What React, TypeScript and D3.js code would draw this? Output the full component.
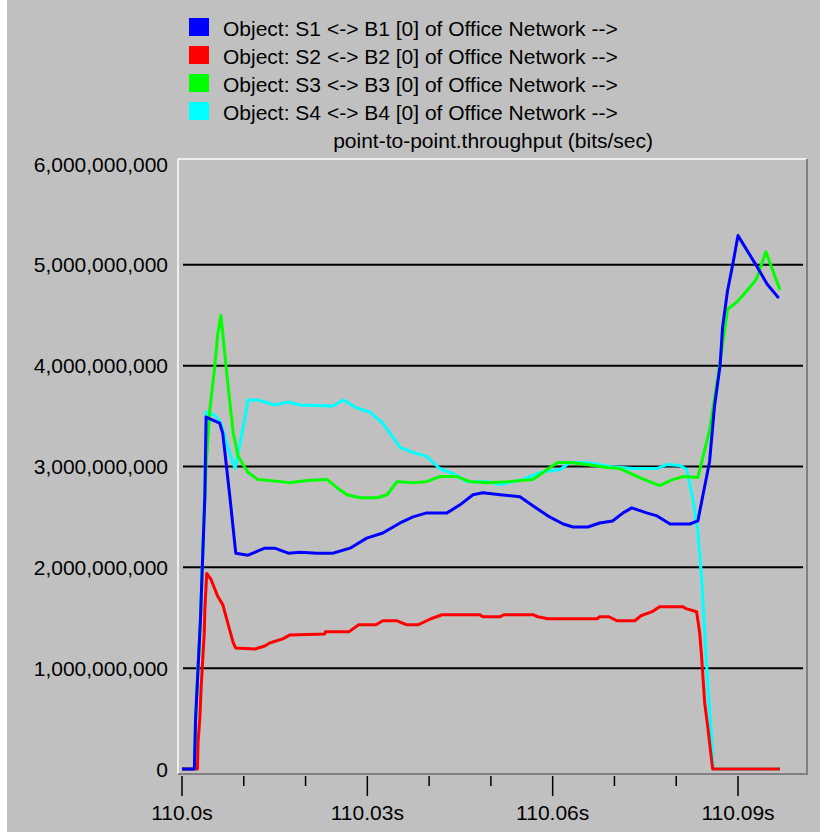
import React, { useEffect, useRef } from "react";
import * as d3 from "d3";

// time offsets in ms after 110.0 s, throughput in Gbit/s
const s1Series: [number, number][] = [
  [0, 0], [2.0, 0], [2.2, 0.5], [2.6, 1.0], [3.0, 1.5], [3.4, 2.2], [3.7, 2.7], [3.9, 3.49],
  [6.1, 3.43], [6.6, 3.33], [7.8, 2.67], [8.7, 2.14], [10.7, 2.12], [13.4, 2.19], [15.0, 2.19],
  [17.2, 2.14], [19.1, 2.15], [21.8, 2.14], [24.4, 2.14], [27.2, 2.19], [29.9, 2.29], [32.5, 2.34],
  [35.3, 2.44], [37.4, 2.5], [39.6, 2.54], [42.9, 2.54], [45.0, 2.62], [47.1, 2.72], [48.7, 2.74],
  [51.5, 2.72], [54.7, 2.7], [56.8, 2.61], [59.5, 2.5], [61.7, 2.43], [63.3, 2.4], [65.7, 2.4],
  [67.6, 2.44], [69.7, 2.46], [71.4, 2.54], [72.8, 2.59], [75.2, 2.54], [76.9, 2.51], [79.0, 2.43],
  [82.2, 2.43], [83.5, 2.46], [85.4, 3.05], [86.2, 3.6], [87.1, 4.0], [87.5, 4.38], [88.3, 4.74],
  [89.2, 5.02], [90.0, 5.29], [93.0, 4.99], [94.7, 4.81], [96.6, 4.67],
];

const s2Series: [number, number][] = [
  [0, 0], [2.5, 0], [2.6, 0.26], [2.9, 0.52], [3.1, 0.81], [3.6, 1.35], [3.7, 1.58], [4.0, 1.94],
  [4.7, 1.88], [5.8, 1.71], [6.6, 1.63], [7.4, 1.45], [8.3, 1.25], [8.7, 1.2], [11.8, 1.19],
  [13.4, 1.22], [14.2, 1.25], [16.3, 1.29], [17.5, 1.33], [23.1, 1.34], [23.2, 1.36], [27.0, 1.36],
  [28.6, 1.43], [31.4, 1.43], [32.5, 1.47], [34.8, 1.47], [36.4, 1.43], [38.2, 1.43], [40.3, 1.49],
  [42.1, 1.53], [48.2, 1.53], [48.7, 1.51], [51.5, 1.51], [52.1, 1.53], [56.8, 1.53], [57.6, 1.51],
  [59.2, 1.49], [67.2, 1.49], [67.6, 1.51], [69.1, 1.51], [70.4, 1.47], [73.3, 1.47], [74.3, 1.52],
  [76.1, 1.56], [77.3, 1.61], [81.1, 1.61], [81.6, 1.59], [83.3, 1.56], [83.8, 1.35], [84.1, 1.12],
  [84.6, 0.66], [85.1, 0.42], [85.8, 0.05], [85.9, 0], [96.8, 0],
];

const s3Series: [number, number][] = [
  [0, 0], [2.0, 0], [2.2, 0.5], [2.6, 1.0], [3.0, 1.5], [3.4, 2.2], [3.7, 2.7], [3.9, 3.0],
  [4.5, 3.56], [5.3, 3.99], [5.8, 4.32], [6.3, 4.5], [6.6, 4.32], [7.4, 3.83], [8.3, 3.33],
  [9.1, 3.1], [10.7, 2.94], [12.3, 2.87], [16.0, 2.85], [17.2, 2.84], [20.4, 2.86], [23.5, 2.87],
  [25.1, 2.79], [26.7, 2.72], [28.8, 2.69], [31.6, 2.69], [33.2, 2.72], [34.8, 2.85], [37.4, 2.84],
  [39.6, 2.85], [41.7, 2.9], [44.5, 2.9], [46.6, 2.85], [49.4, 2.84], [52.8, 2.85], [56.8, 2.87],
  [59.1, 2.97], [60.8, 3.04], [62.8, 3.04], [65.5, 3.02], [68.8, 2.99], [70.9, 2.98], [74.1, 2.89],
  [77.3, 2.81], [79.4, 2.87], [81.1, 2.9], [83.5, 2.89], [85.4, 3.36], [87.1, 4.03], [88.3, 4.56],
  [89.8, 4.63], [91.4, 4.74], [93.0, 4.86], [94.5, 5.13], [96.8, 4.75],
];

const s4Series: [number, number][] = [
  [0, 0], [2.0, 0], [2.2, 0.5], [2.6, 1.0], [3.0, 1.5], [3.4, 2.2], [3.7, 2.8], [3.9, 3.54],
  [5.3, 3.51], [6.3, 3.43], [7.1, 3.26], [7.9, 3.1], [8.6, 2.98], [9.5, 3.26], [10.7, 3.66],
  [12.3, 3.66], [15.0, 3.61], [17.2, 3.64], [19.1, 3.61], [24.4, 3.6], [26.1, 3.66], [28.3, 3.58],
  [30.4, 3.54], [32.5, 3.43], [35.3, 3.19], [37.4, 3.14], [39.6, 3.1], [41.7, 2.98], [43.9, 2.93],
  [46.1, 2.85], [49.4, 2.85], [51.5, 2.82], [55.2, 2.87], [57.9, 2.94], [61.2, 2.97], [62.8, 3.04],
  [65.5, 3.04], [69.3, 3.0], [73.0, 2.98], [76.9, 2.98], [78.5, 3.02], [80.6, 3.01], [81.7, 2.97],
  [82.7, 2.68], [83.5, 2.36], [84.1, 1.9], [84.6, 1.37], [85.1, 0.84], [85.8, 0.24], [86.0, 0],
  [96.8, 0],
];

const legendLabels = [
  "Object: S1 <-> B1 [0] of Office Network -->",
  "Object: S2 <-> B2 [0] of Office Network -->",
  "Object: S3 <-> B3 [0] of Office Network -->",
  "Object: S4 <-> B4 [0] of Office Network -->",
];
const legendColors = ["#0000ff", "#ff0000", "#00ff00", "#00ffff"];
const statLabel = "point-to-point.throughput (bits/sec)";

const yTicks = [0, 1e9, 2e9, 3e9, 4e9, 5e9, 6e9];
const xMinorTicks = [0, 10, 20, 30, 40, 50, 60, 70, 80, 90];
const xMajorTicks = [0, 30, 60, 90];
const xTickLabels = ["110.0s", "110.03s", "110.06s", "110.09s"];

const FONT = "'Liberation Sans', Arial, sans-serif";

export default function App() {
  const ref = useRef<SVGSVGElement>(null);

  useEffect(() => {
    if (!ref.current) return;
    const svg = d3.select(ref.current);
    svg.selectAll("*").remove();

    const width = 820;
    const height = 832;
    const frame = { left: 178, top: 159, right: 807, bottom: 774 };

    const x = d3.scaleLinear().domain([0, 90]).range([182, 738]);
    const y = d3.scaleLinear().domain([0, 6e9]).range([769, 164]);

    // background
    svg.append("rect").attr("width", width).attr("height", height).attr("fill", "#ffffff");
    svg.append("rect").attr("x", 7).attr("width", width - 7).attr("height", height).attr("fill", "#c0c0c0");

    // legend
    const legend = svg.append("g");
    legendLabels.forEach((lab, i) => {
      legend.append("rect")
        .attr("x", 189).attr("y", 18 + i * 28)
        .attr("width", 20).attr("height", 18)
        .attr("fill", legendColors[i]);
      legend.append("text")
        .attr("x", 223).attr("y", 36 + i * 28)
        .attr("font-family", FONT).attr("font-size", 21)
        .attr("fill", "#000")
        .text(lab);
    });
    legend.append("text")
      .attr("x", 653).attr("y", 148)
      .attr("text-anchor", "end")
      .attr("font-family", FONT).attr("font-size", 21)
      .attr("fill", "#000")
      .text(statLabel);

    // frame
    svg.append("line").attr("x1", frame.left).attr("x2", frame.left).attr("y1", frame.top).attr("y2", frame.bottom)
      .attr("stroke", "#ffffff").attr("stroke-width", 1.5);
    svg.append("line").attr("x1", frame.left).attr("x2", frame.right).attr("y1", frame.top).attr("y2", frame.top)
      .attr("stroke", "#ffffff").attr("stroke-width", 1.5);
    svg.append("line").attr("x1", frame.right).attr("x2", frame.right).attr("y1", frame.top).attr("y2", frame.bottom + 1)
      .attr("stroke", "#808080").attr("stroke-width", 2);
    svg.append("line").attr("x1", frame.left).attr("x2", frame.right + 1).attr("y1", frame.bottom).attr("y2", frame.bottom)
      .attr("stroke", "#808080").attr("stroke-width", 2);

    // gridlines
    svg.append("g").selectAll("line")
      .data(yTicks.filter(v => v > 0 && v < 6e9))
      .enter().append("line")
      .attr("x1", 183).attr("x2", 803)
      .attr("y1", (d: number) => y(d)).attr("y2", (d: number) => y(d))
      .attr("stroke", "#000").attr("stroke-width", 2);

    // y labels
    svg.append("g").selectAll("text")
      .data(yTicks)
      .enter().append("text")
      .attr("x", 168).attr("y", (d: number) => y(d))
      .attr("dy", "0.36em")
      .attr("text-anchor", "end")
      .attr("font-family", FONT).attr("font-size", 21)
      .attr("fill", "#000")
      .text((d: number) => d3.format(",")(d));

    // x ticks
    svg.append("g").selectAll("line")
      .data(xMinorTicks)
      .enter().append("line")
      .attr("x1", (d: number) => x(d)).attr("x2", (d: number) => x(d))
      .attr("y1", 776)
      .attr("y2", (d: number) => (xMajorTicks.includes(d) ? 796 : 786))
      .attr("stroke", "#000").attr("stroke-width", 1.5);

    svg.append("g").selectAll("text")
      .data(xMajorTicks)
      .enter().append("text")
      .attr("x", (d: number) => x(d)).attr("y", 820)
      .attr("text-anchor", "middle")
      .attr("font-family", FONT).attr("font-size", 21)
      .attr("fill", "#000")
      .text((_d: number, i: number) => xTickLabels[i]);

    // series: cyan at the bottom, blue on top
    const line = d3.line<[number, number]>()
      .x(d => x(d[0]))
      .y(d => y(d[1] * 1e9));

    const series: { data: [number, number][]; color: string }[] = [
      { data: s4Series, color: legendColors[3] },
      { data: s3Series, color: legendColors[2] },
      { data: s2Series, color: legendColors[1] },
      { data: s1Series, color: legendColors[0] },
    ];
    series.forEach(s => {
      svg.append("path")
        .attr("d", line(s.data))
        .attr("fill", "none")
        .attr("stroke", s.color)
        .attr("stroke-width", 3)
        .attr("stroke-linejoin", "round");
    });
  }, []);

  return (
    <svg
      ref={ref}
      width={820}
      height={832}
      style={{ position: "absolute", left: 0, top: 0, display: "block" }}
    />
  );
}
